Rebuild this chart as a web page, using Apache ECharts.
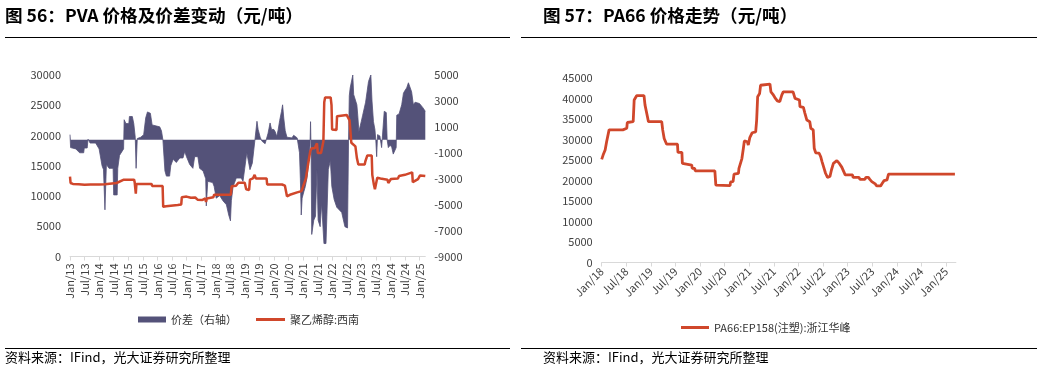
<!DOCTYPE html>
<html><head><meta charset="utf-8">
<script src="https://cdn.jsdelivr.net/npm/echarts@6/dist/echarts.min.js"></script>
<style>html,body{margin:0;padding:0;background:#fff}#c{width:1054px;height:370px}</style>
</head><body><div id="c"></div>
<script>
// ---------- data ----------
const pvaTicks = ['Jan/13','Jul/13','Jan/14','Jul/14','Jan/15','Jul/15','Jan/16','Jul/16','Jan/17','Jul/17','Jan/18','Jul/18','Jan/19','Jul/19','Jan/20','Jul/20','Jan/21','Jul/21','Jan/22','Jul/22','Jan/23','Jul/23','Jan/24','Jul/24','Jan/25'];
const pa66Ticks = ['Jan/18','Jul/18','Jan/19','Jul/19','Jan/20','Jul/20','Jan/21','Jul/21','Jan/22','Jul/22','Jan/23','Jul/23','Jan/24','Jul/24','Jan/25'];
const leftAxisTicks = [0,5000,10000,15000,20000,25000,30000];
const rightAxisTicks = [-9000,-7000,-5000,-3000,-1000,1000,3000,5000];
const pa66AxisTicks = [0,5000,10000,15000,20000,25000,30000,35000,40000,45000];

// spread (价差, right axis): time in decimal years
const spreadDates = [2013.00,2013.02,2013.20,2013.33,2013.47,2013.49,2013.59,2013.62,2013.69,2013.88,2014.00,2014.10,2014.15,2014.20,2014.25,2014.34,2014.48,2014.50,2014.62,2014.64,2014.70,2014.84,2014.86,2014.92,2015.02,2015.04,2015.14,2015.19,2015.24,2015.27,2015.31,2015.43,2015.53,2015.60,2015.66,2015.76,2015.82,2016.08,2016.14,2016.19,2016.26,2016.31,2016.42,2016.46,2016.54,2016.65,2016.77,2016.88,2016.94,2017.00,2017.11,2017.22,2017.28,2017.39,2017.45,2017.57,2017.66,2017.68,2017.73,2017.90,2017.95,2018.02,2018.14,2018.25,2018.37,2018.45,2018.51,2018.54,2018.60,2018.71,2018.88,2018.94,2019.00,2019.07,2019.18,2019.26,2019.35,2019.42,2019.46,2019.53,2019.59,2019.70,2019.76,2019.80,2019.87,2019.92,2020.00,2020.05,2020.10,2020.15,2020.20,2020.26,2020.30,2020.34,2020.39,2020.45,2020.62,2020.68,2020.80,2020.85,2020.88,2020.91,2020.94,2020.97,2021.03,2021.08,2021.14,2021.20,2021.24,2021.26,2021.28,2021.30,2021.34,2021.37,2021.43,2021.48,2021.52,2021.59,2021.64,2021.72,2021.79,2021.82,2021.87,2021.94,2021.99,2022.07,2022.16,2022.33,2022.44,2022.53,2022.555,2022.565,2022.59,2022.62,2022.67,2022.71,2022.74,2022.79,2022.85,2022.88,2022.92,2022.96,2023.00,2023.05,2023.10,2023.15,2023.20,2023.25,2023.33,2023.37,2023.42,2023.47,2023.50,2023.53,2023.56,2023.64,2023.70,2023.76,2023.79,2023.86,2023.89,2023.93,2024.00,2024.05,2024.10,2024.16,2024.20,2024.22,2024.30,2024.39,2024.45,2024.50,2024.56,2024.62,2024.68,2024.73,2024.79,2024.85,2025.00,2025.11,2025.20];
const spreadValues = [400,-600,-700,-1000,-1000,-630,-630,50,-250,-250,-700,-2000,-2300,-5400,-1900,-2200,-2200,-4250,-4250,-2200,-1200,-700,1550,1250,1250,1800,1800,1250,200,-2200,100,200,400,1700,2150,2050,1150,1000,700,0,-2400,-2800,-2800,-2000,-1500,-1750,-1400,-1400,-900,-1300,-1900,-2200,-1300,-1300,-2200,-2400,-3000,-5100,-3200,-3300,-3600,-4500,-4300,-4700,-5000,-5800,-6250,-4700,-3600,-2950,-2950,-3200,-2200,-1000,-2300,-1800,0,1430,800,200,-100,-300,-400,500,1300,800,800,600,250,800,1500,2170,2700,1680,700,200,150,350,150,0,-1000,-3000,-5800,-4500,-4000,-3600,-2900,-1600,-500,1400,-1000,-7300,-7400,-6200,-5900,-2300,-6200,-6700,-4900,-8000,-8000,-5900,-2300,-1600,-3600,-4600,-5200,-5600,-6700,-6800,-6800,0,3400,4000,4000,5000,3500,3400,2700,1900,650,650,1400,1900,1800,2900,3700,4500,5000,3000,1400,800,0,-1300,400,300,-600,-600,2200,2100,0,-600,-400,-600,-1100,-1250,-600,1900,2000,2700,3600,3800,4000,4400,4300,3700,2700,2900,2800,2500,2200];

// 聚乙烯醇:西南 (left axis)
const pvaDates = [2013.00,2013.02,2013.10,2013.30,2013.50,2013.70,2014.00,2014.20,2014.25,2014.60,2014.62,2014.85,2015.20,2015.22,2015.25,2015.26,2015.28,2015.80,2015.82,2016.18,2016.20,2016.30,2016.70,2016.82,2016.84,2017.00,2017.15,2017.30,2017.38,2017.55,2017.65,2017.67,2017.70,2017.92,2017.95,2018.52,2018.55,2018.70,2018.78,2019.00,2019.05,2019.15,2019.18,2019.28,2019.34,2019.38,2019.75,2019.77,2020.28,2020.30,2020.38,2020.45,2020.55,2020.80,2020.95,2021.00,2021.10,2021.20,2021.25,2021.30,2021.40,2021.48,2021.51,2021.62,2021.70,2021.73,2021.76,2021.95,2021.98,2022.00,2022.15,2022.17,2022.50,2022.56,2022.60,2022.66,2022.72,2022.80,2022.85,2022.90,2023.12,2023.14,2023.19,2023.21,2023.36,2023.38,2023.43,2023.47,2023.52,2023.55,2023.66,2023.70,2023.90,2023.93,2023.99,2024.02,2024.26,2024.30,2024.50,2024.55,2024.75,2024.77,2024.82,2024.95,2025.02,2025.20];
const pvaValues = [13200,12150,12000,11950,11850,11900,11900,11950,12150,12150,12400,12700,12700,12300,12300,10400,12000,12000,11650,11650,8200,8300,8500,8600,9800,9900,9700,9750,9400,9350,9600,9000,9600,9800,10200,10200,11600,11700,12200,12200,11100,11000,12700,12900,13500,12900,12900,11900,11900,11700,11700,9950,10200,10600,10800,11500,12900,16000,17400,17900,17900,18700,17100,17100,19000,25500,26300,26300,25000,21000,20900,23200,23400,23400,22500,18800,18500,18200,16300,15200,15200,15700,15700,16700,16700,13500,12000,11100,11300,13000,12900,12600,12700,12150,12200,12800,12900,13300,13500,13800,13900,12300,12400,12800,13400,13300];

// PA66:EP158(注塑):浙江华峰
const pa66Dates = [2018.00,2018.03,2018.07,2018.10,2018.13,2018.15,2018.43,2018.44,2018.46,2018.47,2018.51,2018.52,2018.64,2018.66,2018.68,2018.71,2018.86,2018.88,2018.93,2018.95,2019.22,2019.24,2019.27,2019.32,2019.54,2019.55,2019.63,2019.64,2019.66,2019.83,2019.84,2019.89,2019.90,2020.30,2020.32,2020.61,2020.62,2020.67,2020.69,2020.78,2020.79,2020.83,2020.85,2020.88,2020.90,2020.96,2020.98,2021.01,2021.05,2021.06,2021.13,2021.15,2021.17,2021.21,2021.23,2021.25,2021.42,2021.44,2021.48,2021.52,2021.57,2021.62,2021.66,2021.69,2021.89,2021.93,2021.96,2022.02,2022.03,2022.10,2022.13,2022.17,2022.20,2022.23,2022.25,2022.27,2022.30,2022.32,2022.35,2022.42,2022.45,2022.48,2022.52,2022.55,2022.59,2022.64,2022.67,2022.71,2022.78,2022.83,2022.88,2022.92,2022.95,2023.10,2023.11,2023.23,2023.25,2023.35,2023.37,2023.42,2023.45,2023.49,2023.56,2023.59,2023.67,2023.70,2023.74,2023.80,2023.83,2025.18];
const pa66Values = [25200,26300,27500,29500,29900,32400,32400,32100,32100,32800,32800,34200,34400,39700,40100,40750,40750,38500,35600,34400,34400,32400,30300,28900,28900,26900,26900,24200,23800,23800,23000,23000,22400,22400,18900,18800,19700,19750,21600,21800,23000,23000,25400,27900,29700,29500,28700,30500,30600,31700,31900,34800,40500,41300,43300,43600,43600,41700,41100,40300,39500,39300,40900,41700,41700,40100,39700,39700,38100,37900,36500,34800,34400,34400,32800,32400,32400,27900,26800,26700,25900,24600,23000,21800,20800,21000,22600,24200,24900,24200,23300,23000,21400,21400,20800,20800,20300,20300,20800,20800,20300,19750,19200,18700,18700,19300,20000,20200,21600,21600];

// ---------- chart ----------
const FONT = '"Noto Sans CJK SC","Noto Sans",sans-serif';
const purple = '#545279';
const red = '#d0472b';
const axisGray = '#d9d9d9';
const labelColor = '#404040';

const tickVal = t => 2000 + parseInt(t.slice(4), 10) + (t.startsWith('Jul') ? 0.5 : 0);
const pvaTickVals = pvaTicks.map(tickVal);
const pa66TickVals = pa66Ticks.map(tickVal);
const fmt = (ticks, vals) => v => { const i = vals.findIndex(x => Math.abs(x - v) < 1e-6); return i >= 0 ? ticks[i] : ''; };
const plain = v => String(v);
const zip = (a, b) => a.map((d, i) => [d, b[i]]);

const chart = echarts.init(document.getElementById('c'), null, {renderer: 'canvas'});
const lbl = {fontFamily: FONT, fontSize: 11, color: labelColor};
const titleStyle = {fontFamily: FONT, fontSize: 17.6, fontWeight: 'bold', color: '#000'};
const srcStyle = {fontFamily: FONT, fontSize: 13, fontWeight: 'normal', color: '#000'};

chart.setOption({
  animation: false,
  backgroundColor: '#fff',
  title: [
    {text: '图 56：PVA 价格及价差变动（元/吨）', left: 5, top: 7, padding: 0, textStyle: titleStyle},
    {text: '图 57：PA66 价格走势（元/吨）', left: 543, top: 7, padding: 0, textStyle: titleStyle},
    {text: '资料来源：IFind，光大证券研究所整理', left: 5, top: 351, padding: 0, textStyle: srcStyle},
    {text: '资料来源：IFind，光大证券研究所整理', left: 543, top: 351, padding: 0, textStyle: srcStyle}
  ],
  graphic: [
    {type: 'line', shape: {x1: 5, y1: 37.5, x2: 510, y2: 37.5}, style: {stroke: '#000', lineWidth: 1}},
    {type: 'line', shape: {x1: 521, y1: 37.5, x2: 1037, y2: 37.5}, style: {stroke: '#000', lineWidth: 1}},
    {type: 'line', shape: {x1: 5, y1: 348.5, x2: 510, y2: 348.5}, style: {stroke: '#000', lineWidth: 1}},
    {type: 'line', shape: {x1: 521, y1: 348.5, x2: 1037, y2: 348.5}, style: {stroke: '#000', lineWidth: 1}}
  ],
  legend: [
    {data: [{name: '价差（右轴）', icon: 'rect'}], left: 138, top: 314, padding: 0, itemWidth: 28, itemHeight: 6, textStyle: {fontFamily: FONT, fontSize: 11, color: '#333'}},
    {data: [{name: '聚乙烯醇:西南', icon: 'rect'}], left: 256, top: 314, padding: 0, itemWidth: 29, itemHeight: 3, textStyle: {fontFamily: FONT, fontSize: 11, color: '#333'}},
    {data: [{name: 'PA66:EP158(注塑):浙江华峰', icon: 'rect'}], left: 681, top: 322, padding: 0, itemWidth: 28, itemHeight: 3, textStyle: {fontFamily: FONT, fontSize: 11, color: '#333'}}
  ],
  grid: [
    {left: 70, top: 75, width: 355.3, height: 181.5},
    {left: 601.7, top: 78.3, width: 354.2, height: 184.2}
  ],
  xAxis: [
    {type: 'value', gridIndex: 0, min: 2013, max: 2025.2, splitLine: {show: false},
     axisLine: {onZero: false, lineStyle: {color: axisGray, width: 1}},
     axisTick: {show: true, length: 4, lineStyle: {color: axisGray}, customValues: pvaTickVals},
     axisLabel: Object.assign({rotate: 90, margin: 7, formatter: fmt(pvaTicks, pvaTickVals), customValues: pvaTickVals}, lbl)},
    {type: 'value', gridIndex: 1, min: 2018, max: 2025.2, splitLine: {show: false},
     axisLine: {onZero: false, lineStyle: {color: axisGray, width: 1}},
     axisTick: {show: true, length: 4, lineStyle: {color: axisGray}, customValues: pa66TickVals},
     axisLabel: Object.assign({rotate: 45, margin: 7, formatter: fmt(pa66Ticks, pa66TickVals), customValues: pa66TickVals}, lbl)}
  ],
  yAxis: [
    {type: 'value', gridIndex: 0, min: leftAxisTicks[0], max: leftAxisTicks[leftAxisTicks.length - 1], interval: 5000,
     splitLine: {show: false}, axisLine: {show: false}, axisTick: {show: false}, axisLabel: Object.assign({margin: 9, formatter: plain}, lbl)},
    {type: 'value', gridIndex: 0, position: 'right', min: rightAxisTicks[0], max: rightAxisTicks[rightAxisTicks.length - 1], interval: 2000,
     splitLine: {show: false}, axisLine: {show: false}, axisTick: {show: false}, axisLabel: Object.assign({margin: 9, formatter: plain}, lbl)},
    {type: 'value', gridIndex: 1, min: pa66AxisTicks[0], max: pa66AxisTicks[pa66AxisTicks.length - 1], interval: 5000,
     splitLine: {show: false}, axisLine: {show: false}, axisTick: {show: false}, axisLabel: Object.assign({margin: 9, formatter: plain}, lbl)}
  ],
  series: [
    {name: '价差（右轴）', type: 'line', xAxisIndex: 0, yAxisIndex: 1, data: zip(spreadDates, spreadValues),
     showSymbol: false, symbol: 'none', lineStyle: {color: purple, width: 0.8}, itemStyle: {color: purple},
     areaStyle: {color: purple, opacity: 1}, z: 2},
    {name: '聚乙烯醇:西南', type: 'line', xAxisIndex: 0, yAxisIndex: 0, data: zip(pvaDates, pvaValues),
     showSymbol: false, symbol: 'none', lineStyle: {color: red, width: 2.5}, itemStyle: {color: red}, z: 3},
    {name: 'PA66:EP158(注塑):浙江华峰', type: 'line', xAxisIndex: 1, yAxisIndex: 2, data: zip(pa66Dates, pa66Values),
     showSymbol: false, symbol: 'none', lineStyle: {color: red, width: 2.8}, itemStyle: {color: red}, z: 3}
  ]
});
</script>
</body></html>
